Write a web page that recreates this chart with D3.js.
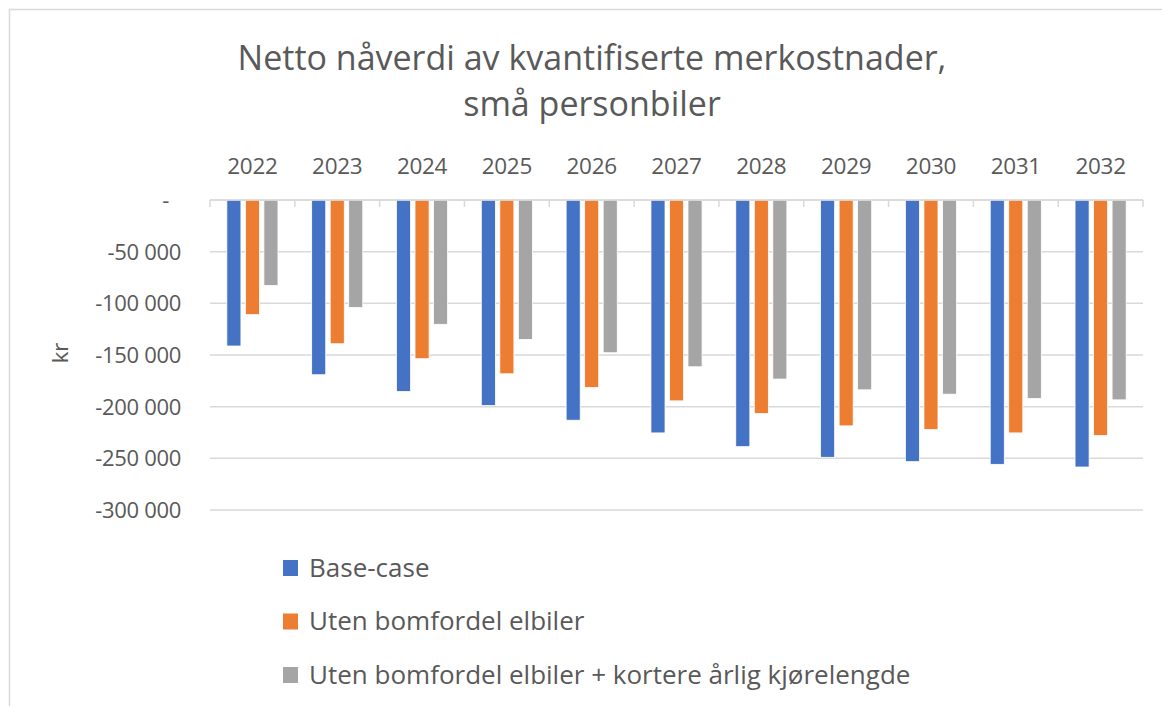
<!DOCTYPE html>
<html>
<head>
<meta charset="utf-8">
<script src="https://cdn.jsdelivr.net/npm/d3@7"></script>
<style>
  body { margin: 0; background: #fff; }
  svg text { font-family: "Open Sans", Lato, sans-serif; fill: #595959; }
</style>
</head>
<body>
<div id="chart"></div>
<script>
// data
const years = ["2022", "2023", "2024", "2025", "2026", "2027", "2028", "2029", "2030", "2031", "2032"];
const seriesNames = ["Base-case", "Uten bomfordel elbiler", "Uten bomfordel elbiler + kortere årlig kjørelengde"];
const baseCase = [-141300, -169100, -185300, -198900, -213100, -225400, -238700, -249000, -253200, -255800, -258400];
const utenBomfordel = [-110900, -139100, -153600, -168200, -181400, -194400, -206700, -218600, -222200, -225400, -228000];
const kortereKjorelengde = [-82800, -104100, -120300, -134900, -147800, -161400, -173300, -183700, -187900, -192100, -193400];
const yTicks = [0, -50000, -100000, -150000, -200000, -250000, -300000];
const colors = ["#4472C4", "#ED7D31", "#A5A5A5"];

const width = 1162, height = 706;
const margin = { top: 200, left: 210, right: 19, bottom: 196 };

const svg = d3.select("#chart")
    .append("svg")
    .attr("width", width)
    .attr("height", height);

// chart border
svg.append("rect")
    .attr("x", 9.5).attr("y", 9.5)
    .attr("width", 1180).attr("height", 720)
    .attr("fill", "none")
    .attr("stroke", "#d9d9d9")
    .attr("stroke-width", 1.5);

const series = [baseCase, utenBomfordel, kortereKjorelengde];
const data = years.map((y, i) => ({ year: y, values: series.map(s => s[i]) }));

const x0 = d3.scaleBand()
    .domain(years)
    .range([margin.left, width - margin.right])
    .padding(0);

const x1 = d3.scaleBand()
    .domain(d3.range(3))
    .range([0, x0.bandwidth()])
    .paddingInner(0.24)
    .paddingOuter(0.91);

const yScale = d3.scaleLinear()
    .domain([-300000, 0])
    .range([height - margin.bottom, margin.top]);

// gridlines
svg.selectAll(".grid")
    .data(yTicks)
    .enter()
    .append("line")
    .attr("class", "grid")
    .attr("x1", margin.left)
    .attr("x2", width - margin.right)
    .attr("y1", d => yScale(d))
    .attr("y2", d => yScale(d))
    .attr("stroke", "#d9d9d9")
    .attr("stroke-width", 1.5);

// y labels (accounting style, zero shown as a dash)
const fmt = d => d === 0 ? "-" : d3.format(",")(d).replace(/,/g, " ").replace("−", "-");
svg.selectAll(".ylab")
    .data(yTicks)
    .enter()
    .append("text")
    .attr("class", "ylab")
    .attr("x", d => d === 0 ? 169 : 181)
    .attr("y", d => yScale(d) + 8)
    .attr("text-anchor", "end")
    .style("font-size", "22px")
    .style("letter-spacing", "-0.3px")
    .text(fmt);

// bars
const groups = svg.selectAll(".group")
    .data(data)
    .enter()
    .append("g")
    .attr("class", "group")
    .attr("transform", d => `translate(${x0(d.year)},0)`);

groups.selectAll("rect")
    .data(d => d.values.map((v, i) => ({ i: i, v: v })))
    .enter()
    .append("rect")
    .attr("x", d => x1(d.i))
    .attr("width", x1.bandwidth())
    .attr("y", yScale(0))
    .attr("height", d => yScale(d.v) - yScale(0))
    .attr("fill", d => colors[d.i])
    .attr("stroke", "#ffffff")
    .attr("stroke-width", 0.8);

// category axis at zero
svg.append("line")
    .attr("x1", margin.left).attr("x2", width - margin.right)
    .attr("y1", yScale(0)).attr("y2", yScale(0))
    .attr("stroke", "#d9d9d9").attr("stroke-width", 1.5);

svg.selectAll(".tick")
    .data(years.concat(["end"]))
    .enter()
    .append("line")
    .attr("class", "tick")
    .attr("x1", (d, i) => margin.left + i * x0.bandwidth())
    .attr("x2", (d, i) => margin.left + i * x0.bandwidth())
    .attr("y1", yScale(0))
    .attr("y2", yScale(0) + 7)
    .attr("stroke", "#d9d9d9").attr("stroke-width", 1.5);

svg.selectAll(".xlab")
    .data(years)
    .enter()
    .append("text")
    .attr("class", "xlab")
    .attr("x", d => x0(d) + x0.bandwidth() / 2)
    .attr("y", 174)
    .attr("text-anchor", "middle")
    .style("font-size", "22.5px")
    .style("letter-spacing", "-0.3px")
    .text(d => d);

// y axis title
svg.append("text")
    .attr("transform", "translate(68,353)rotate(-90)")
    .attr("text-anchor", "middle")
    .style("font-size", "22px")
    .text("kr");

// title
svg.append("text")
    .attr("x", 592).attr("y", 70)
    .attr("text-anchor", "middle")
    .style("font-size", "34px")
    .text("Netto nåverdi av kvantifiserte merkostnader,");
svg.append("text")
    .attr("x", 592).attr("y", 116)
    .attr("text-anchor", "middle")
    .style("font-size", "34px")
    .text("små personbiler");

// legend
const legend = svg.selectAll(".legend")
    .data(seriesNames)
    .enter()
    .append("g")
    .attr("class", "legend")
    .attr("transform", (d, i) => `translate(283,${568 + i * 53.5})`);

legend.append("rect")
    .attr("x", 0).attr("y", -8)
    .attr("width", 15).attr("height", 16)
    .attr("fill", (d, i) => colors[i]);

legend.append("text")
    .attr("x", 26)
    .attr("y", 8.5)
    .style("font-size", "26px")
    .text(d => d);
</script>
</body>
</html>
